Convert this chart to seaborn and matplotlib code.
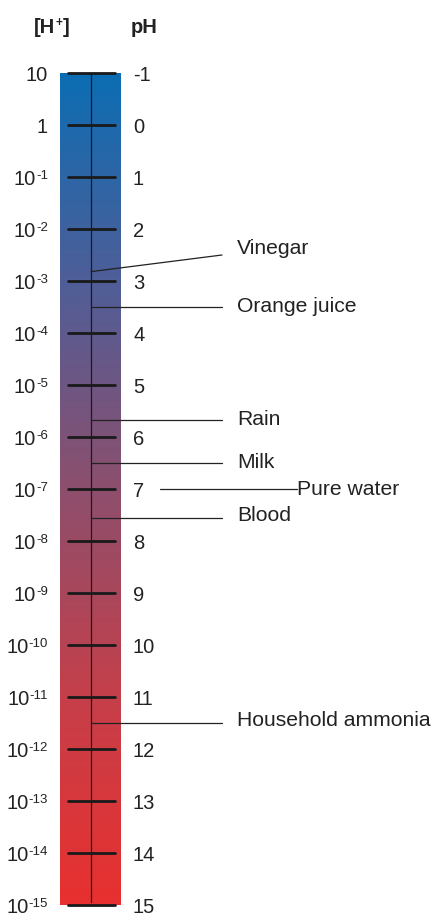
import numpy as np
import pandas as pd
import matplotlib
matplotlib.use("Agg")
import matplotlib.pyplot as plt
from matplotlib.colors import LinearSegmentedColormap
import seaborn as sns

sns.set_theme(style="white")
plt.rcParams['font.family'] = ['Liberation Sans', 'DejaVu Sans']

# ---- data ----
ph_values = list(range(-1, 16))
h_base = ["10", "1"] + ["10"] * 15
h_exp = ["", ""] + ["-%d" % n for n in range(1, 16)]
ph_labels = [str(v) for v in ph_values]
substances = ["Vinegar", "Orange juice", "Rain", "Milk", "Pure water", "Blood", "Household ammonia"]
substance_ph = [2.82, 3.5, 5.67, 6.5, 7.0, 7.55, 11.5]

# ---- layout (pixels on x, pH on y) ----
W, H = 434, 915
TOP_PX, PX_PER_PH = 73, 52.0
def px_to_ph(y):
    return -1 + (y - TOP_PX) / PX_PER_PH
def dpx(d):
    return d / PX_PER_PH

bar_left, bar_right = 60, 121
tick_left, tick_right = 68, 115
center_x = 91
line_start_x = [center_x, center_x, center_x, center_x, 160, center_x, center_x]
line_end_x = [222, 222, 222, 222, 297, 222, 222]
label_x = [237, 237, 237, 237, 297, 237, 237]
line_end_dph = [-0.32, 0, 0, 0, 0, 0, 0]     # vinegar line slants upward
label_base_dpx = [6, 5, 5, 5, 6, 3, 3]         # baseline offset (px) below line end

text_col = "#222222"
fs = 14.5
fs_lab = 15.2
fs_sup = 9.5

fig = plt.figure(figsize=(W / 100, H / 100), dpi=100)
ax = fig.add_axes([0, 0, 1, 1])
ax.set_xlim(0, W)
ax.set_ylim(px_to_ph(H), px_to_ph(0))
ax.axis("off")

# gradient bar
cmap = LinearSegmentedColormap.from_list(
    "ph", ["#0c6db3", "#4f5e98", "#8d4f6d", "#c53f4a", "#e8302f"])
grad = np.linspace(0, 1, 512).reshape(-1, 1)
ax.imshow(grad, extent=(bar_left, bar_right, ph_values[-1], ph_values[0]),
          cmap=cmap, aspect="auto", origin="upper", interpolation="bicubic", zorder=1)

# tick marks via seaborn
tick_df = pd.DataFrame({
    "x": [tick_left, tick_right] * len(ph_values),
    "y": np.repeat(ph_values, 2),
    "u": np.repeat(range(len(ph_values)), 2),
})
sns.lineplot(data=tick_df, x="x", y="y", units="u", estimator=None, sort=False,
             color="#1a1a1a", linewidth=2.0, ax=ax, zorder=3, legend=False)

# center vertical line
ax.plot([center_x, center_x], [ph_values[0], ph_values[-1] - 0.06],
        color="#1a1a1a", linewidth=0.9, zorder=3)

# connector lines
rows = []
for i, p in enumerate(substance_ph):
    rows.append({"x": line_start_x[i], "y": p, "u": i})
    rows.append({"x": line_end_x[i], "y": p + line_end_dph[i], "u": i})
conn_df = pd.DataFrame(rows)
sns.lineplot(data=conn_df, x="x", y="y", units="u", estimator=None, sort=False,
             color="#222222", linewidth=0.9, ax=ax, zorder=4, legend=False)

ax.set_xlim(0, W)
ax.set_ylim(px_to_ph(H), px_to_ph(0))

for i, name in enumerate(substances):
    ax.text(label_x[i], substance_ph[i] + line_end_dph[i] * 1.4 + dpx(label_base_dpx[i]),
            name, fontsize=fs_lab, color=text_col, ha="left", va="baseline", zorder=5)

renderer = fig.canvas.get_renderer()
inv = ax.transData.inverted()

# axis labels
for p, base, ex, pl in zip(ph_values, h_base, h_exp, ph_labels):
    y_base = p + dpx(8)
    ax.text(133, y_base, pl, fontsize=fs, color=text_col, ha="left", va="baseline")
    if ex:
        t = ax.text(48, y_base - dpx(6), ex, fontsize=fs_sup, color=text_col,
                    ha="right", va="baseline")
        bb = t.get_window_extent(renderer)
        x0 = inv.transform((bb.x0, bb.y0))[0]
        ax.text(x0, y_base, base, fontsize=fs, color=text_col, ha="right", va="baseline")
    else:
        ax.text(48, y_base, base, fontsize=fs, color=text_col, ha="right", va="baseline")

# headers
hy = px_to_ph(33)
t1 = ax.text(34, hy, "[H", fontsize=fs, fontweight="bold", color=text_col,
             ha="left", va="baseline")
bb = t1.get_window_extent(renderer)
x1 = inv.transform((bb.x1, bb.y0))[0]
t2 = ax.text(x1 + 0.5, hy - dpx(7), "+", fontsize=8.5, fontweight="bold", color=text_col,
             ha="left", va="baseline")
bb = t2.get_window_extent(renderer)
x2 = inv.transform((bb.x1, bb.y0))[0]
ax.text(x2, hy, "]", fontsize=fs, fontweight="bold", color=text_col,
        ha="left", va="baseline")
ax.text(131, hy, "pH", fontsize=fs, fontweight="bold", color=text_col,
        ha="left", va="baseline")

fig.savefig("out.png", dpi=100)
